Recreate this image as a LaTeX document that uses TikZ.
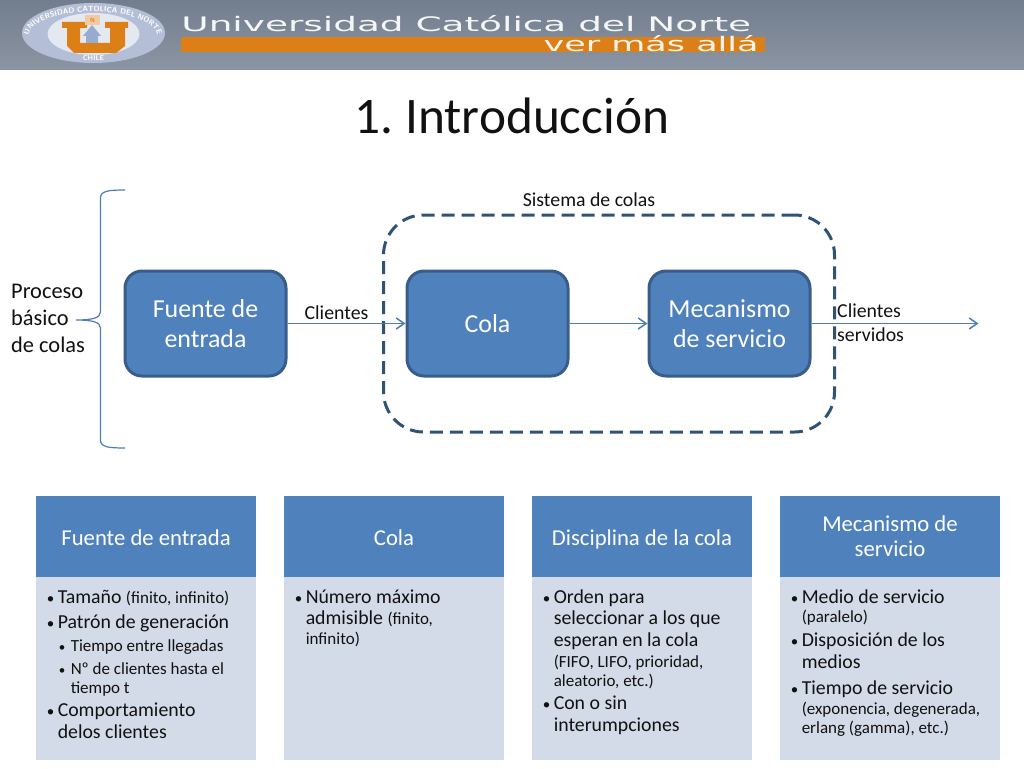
\documentclass[tikz,border=0pt]{standalone}
\usepackage{fontspec}
\setmainfont{Carlito}
\newfontfamily\bannerfont{DejaVu Sans}
\usetikzlibrary{arrows.meta,positioning,calc,backgrounds,decorations.text}
\definecolor{BannerGray}{HTML}{7E8998}
\definecolor{BannerDark}{HTML}{727D8E}
\definecolor{BarOrange}{HTML}{DD7F17}
\definecolor{SealBlue}{HTML}{B4BED6}
\definecolor{SealPale}{HTML}{E4E8F1}
\definecolor{BoxBlue}{HTML}{4F81BD}
\definecolor{BoxEdge}{HTML}{385D8A}
\definecolor{LineBlue}{HTML}{4A7EBB}
\definecolor{DashBlue}{HTML}{2F5277}
\definecolor{BodyBlue}{HTML}{D3DAE8}
\definecolor{InkBlack}{HTML}{111111}
\newcommand{\smalltxt}[1]{{\fontsize{17}{19}\selectfont #1}}
\newcommand{\bitem}{\makebox[11pt][l]{\fontsize{15}{15}\selectfont\textbullet}}
\newcommand{\sitem}{\hspace*{12pt}\makebox[12pt][l]{\fontsize{13}{13}\selectfont\textbullet}}
\newcommand{\hg}{\hspace*{11pt}}
\newcommand{\shg}{\hspace*{24pt}}
\newcommand{\hstrut}{\rule[-6pt]{0pt}{30pt}}
\tikzset{
  FB/.style={rectangle,rounded corners=17pt,minimum width=161pt,minimum height=105pt,
             align=center,draw=BoxEdge,line width=3pt,fill=BoxBlue,text=white,
             font=\fontsize{25.9}{30.5}\selectfont},
  arr/.style={-{Straight Barb[length=8pt,width=11pt]},draw=LineBlue,line width=1.5pt},
  lbl/.style={font=\fontsize{19.8}{24}\selectfont,text=InkBlack,inner sep=0pt},
  head/.style={rectangle,minimum width=220.5pt,minimum height=81pt,fill=BoxBlue,text=white,
               align=center,inner sep=0pt,font=\fontsize{22.7}{25}\selectfont},
  body/.style={rectangle,minimum width=220.5pt,minimum height=183pt,fill=BodyBlue,inner sep=0pt},
  bodytxt/.style={align=left,inner sep=0pt,text=InkBlack,font=\fontsize{19.8}{21.5}\selectfont}
}
\begin{document}
\begin{tikzpicture}[x=1pt,y=1pt]
  \useasboundingbox (0,0) rectangle (1024,-768);

  % Banner
  \fill[top color=BannerDark,bottom color=BannerGray!90!white] (0,0) rectangle (1024,-69);
  \fill[BarOrange] (181,-37) rectangle (765,-52);
  \node[anchor=base west,inner sep=0pt,text=white!92!BannerGray,xscale=1.87,transform shape] (uni) at (181,-32)
    {\bannerfont\fontsize{20}{20}\selectfont Universidad Católica del Norte};
  \node[anchor=base east,inner sep=0pt,text=white!92!BarOrange,xscale=1.75,transform shape] (lema) at (759,-51.5)
    {\bannerfont\fontsize{20}{20}\selectfont ver más allá};

  % Seal
  \fill[SealBlue] (93.5,-33) ellipse [x radius=71.5,y radius=30];
  \fill[SealPale] (93.5,-34) ellipse [x radius=46,y radius=21];
  \path[decorate,decoration={text along path,text align=center,
        text={|\sffamily\bfseries\fontsize{7.5}{7.5}\selectfont\color{white}|UNIVERSIDAD CATOLICA DEL NORTE}}]
    (29,-40) arc [start angle=188,end angle=-8,x radius=64.5,y radius=25];
  \node[font=\sffamily\bfseries\fontsize{7}{7}\selectfont,text=white,inner sep=0pt] (chile) at (93.5,-58.5) {CHILE};
  \fill[BarOrange] (62,-22) -- (87,-22) -- (87,-28) -- (80,-28) -- (80,-43)
    -- (110,-43) -- (110,-28) -- (105,-28) -- (105,-22) -- (128,-22) -- (128,-28) -- (125,-28)
    -- (125,-46) -- (116,-53) -- (74,-53) -- (67,-46) -- (67,-28) -- (62,-28) -- cycle;
  \fill[BarOrange!40!white] (85,-15) rectangle (100,-25);
  \node[font=\sffamily\bfseries\fontsize{6}{6}\selectfont,text=BarOrange,inner sep=0pt] (ene) at (92.5,-20) {N};
  \fill[SealBlue!70!BoxBlue] (92,-25) -- (101,-36) -- (98,-36) -- (98,-43) -- (86,-43) -- (86,-36) -- (83,-36) -- cycle;

  % Title
  \node[font=\fontsize{51.3}{55}\selectfont,text=InkBlack,inner sep=0pt] (titulo) at (512,-116) {1.\ Introducción};

  % Process
  \node[FB] (fuente) at (205.5,-323.5) {Fuente de\\entrada};
  \node[FB,right=118pt of fuente] (cola) {Cola};
  \node[FB,right=78pt of cola] (mecanismo) {Mecanismo\\de servicio};
  \coordinate[right=167pt of mecanismo.east] (salida);

  \node[draw=DashBlue,line width=3pt,dash pattern=on 13pt off 7pt,rounded corners=40pt,
        minimum width=451pt,minimum height=217pt,inner sep=0pt] (sistema) at (609,-323.5) {};
  \node[lbl] (sistlabel) at (589,-200) {Sistema de colas};

  \draw[arr] (fuente.east)--(cola.west);
  \draw[arr] (cola.east)--(mecanismo.west);
  \draw[arr] (mecanismo.east)--(salida);

  \node[lbl] (clientes) at (336.5,-313) {Clientes};
  \node[lbl,align=left,anchor=west] (servidos) at (837,-323) {Clientes\\servidos};

  % Brace
  \node[align=left,anchor=west,inner sep=0pt,text=InkBlack,font=\fontsize{22.4}{27}\selectfont] (proceso) at (11,-318) {Proceso\\básico\\de colas};
  \coordinate (bracetop) at (125,-190);
  \coordinate (bracetip) at (76,-320);
  \coordinate (bracebot) at (125,-448);
  \draw[LineBlue,line width=1.2pt] (bracetop) .. controls (108,-190) and (100.5,-191) .. (100.5,-198)
    -- (100.5,-312) .. controls (100.5,-318) and (92,-320) .. (bracetip)
    .. controls (92,-320) and (100.5,-322) .. (100.5,-328)
    -- (100.5,-440) .. controls (100.5,-447) and (108,-448) .. (bracebot);

  % Cards
  \node[head] (h1) at (146,-536.5) {\hstrut Fuente de entrada};
  \node[head,right=27.1pt of h1] (h2) {\hstrut Cola};
  \node[head,right=27.1pt of h2] (h3) {\hstrut Disciplina de la cola};
  \node[head,right=27.1pt of h3] (h4) {Mecanismo de\\servicio};
  \foreach \c in {1,2,3,4}{
    \node[body,below=0pt of h\c] (b\c) {};
  }

  \node[bodytxt,anchor=north west] (t1) at ($(b1.north west)+(11,-13)$) {%
    \bitem Tamaño \smalltxt{(finito, infinito)}\\[3pt]
    \bitem Patrón de generación\\[2pt]
    \sitem\smalltxt{Tiempo entre llegadas}\\[1pt]
    \sitem\smalltxt{Nº de clientes hasta el}\\[-2.5pt]
    \shg\smalltxt{tiempo t}\\[1.5pt]
    \bitem Comportamiento\\[1pt]
    \hg delos clientes};
  \node[bodytxt,anchor=north west] (t2) at ($(b2.north west)+(11,-12)$) {%
    \bitem Número máximo\\
    \hg admisible \smalltxt{(finito,}\\[-2pt]
    \hg\smalltxt{infinito)}};
  \node[bodytxt,anchor=north west] (t3) at ($(b3.north west)+(11,-12)$) {%
    \bitem Orden para\\
    \hg seleccionar a los que\\
    \hg esperan en la cola\\
    \hg\smalltxt{(FIFO, LIFO, prioridad,}\\[-2.5pt]
    \hg\smalltxt{aleatorio, etc.)}\\[1.5pt]
    \bitem Con o sin\\
    \hg interumpciones};
  \node[bodytxt,anchor=north west] (t4) at ($(b4.north west)+(11,-12)$) {%
    \bitem Medio de servicio\\[-2.5pt]
    \hg\smalltxt{(paralelo)}\\[2.5pt]
    \bitem Disposición de los\\[1pt]
    \hg medios\\[4pt]
    \bitem Tiempo de servicio\\[-1.5pt]
    \hg\smalltxt{(exponencia, degenerada,}\\[-2.5pt]
    \hg\smalltxt{erlang (gamma), etc.)}};
\end{tikzpicture}
\end{document}
